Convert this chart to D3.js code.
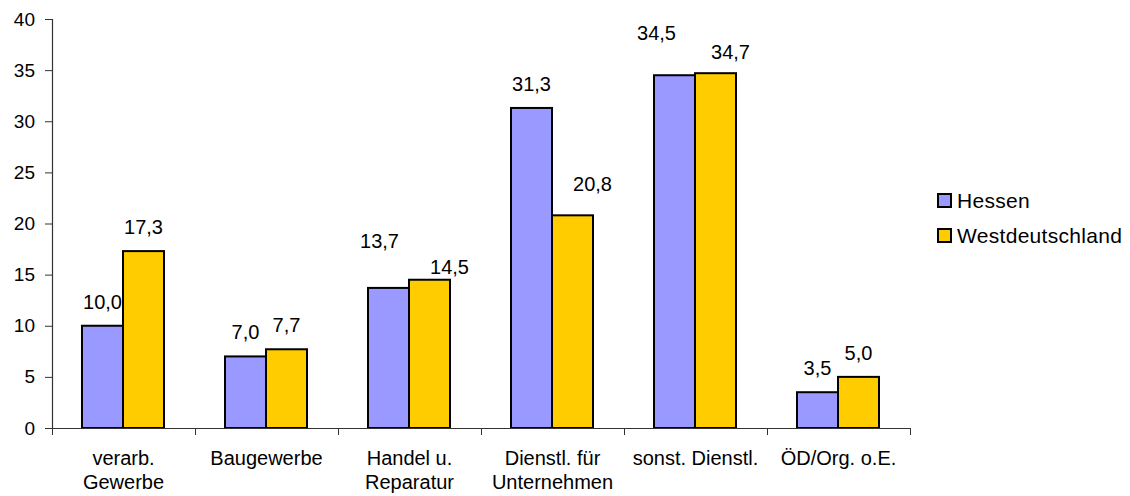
<!DOCTYPE html>
<head>
<meta charset="utf-8">
<style>
  body { margin: 0; background: #fff; }
  text { font-family: "Liberation Sans", Arial, sans-serif; fill: #000; }
</style>
</head>
<body>
<div id="chart"></div>
<script src="https://cdnjs.cloudflare.com/ajax/libs/d3/7.8.5/d3.min.js"></script>
<script>
// data
var categories = [
  ['verarb.', 'Gewerbe'],
  ['Baugewerbe'],
  ['Handel u.', 'Reparatur'],
  ['Dienstl. für', 'Unternehmen'],
  ['sonst. Dienstl.'],
  ['ÖD/Org. o.E.']
];
var seriesNames = ['Hessen', 'Westdeutschland'];
var hessen = [10.0, 7.0, 13.7, 31.3, 34.5, 3.5];
var westdeutschland = [17.3, 7.7, 14.5, 20.8, 34.7, 5.0];
var yTicks = [0, 5, 10, 15, 20, 25, 30, 35, 40];

var colors = ['#9999FF', '#FFCC00'];

var width = 1130, height = 496;
var svg = d3.select('#chart').append('svg')
  .attr('width', width)
  .attr('height', height);

var x0 = d3.scaleBand()
  .domain(d3.range(categories.length))
  .range([52, 910])
  .padding(0);

var x1 = d3.scaleBand()
  .domain(seriesNames)
  .range([30, 112]);

var y = d3.scaleLinear()
  .domain([0, 40])
  .range([428, 19]);

var values = [hessen, westdeutschland];

// axes
var yAxis = svg.append('g')
  .attr('transform', 'translate(52,0)')
  .call(d3.axisLeft(y).tickValues(yTicks).tickSize(7).tickPadding(10)
    .tickFormat(d3.format('d')));
yAxis.select('.domain').attr('stroke', '#333').attr('stroke-width', 1.2);
yAxis.selectAll('.tick line').attr('stroke', '#333');
yAxis.selectAll('.tick text').style('font-size', '19px')
  .style('font-family', '"Liberation Sans", Arial, sans-serif').attr('fill', '#000');

// bars
var groups = svg.selectAll('g.cat')
  .data(categories).enter().append('g')
  .attr('class', 'cat')
  .attr('transform', function(d, i) { return 'translate(' + x0(i) + ',0)'; });

seriesNames.forEach(function(name, s) {
  groups.append('rect')
    .attr('x', function(d, i) { return x1(name); })
    .attr('y', function(d, i) { return y(values[s][i]); })
    .attr('width', x1.bandwidth())
    .attr('height', function(d, i) { return y(0) - y(values[s][i]); })
    .attr('fill', colors[s])
    .attr('stroke', '#000')
    .attr('stroke-width', 2);
});

// x axis line and ticks at category boundaries
var xAxis = svg.append('g');
xAxis.append('line')
  .attr('x1', 52).attr('x2', 910)
  .attr('y1', y(0) + 0.5).attr('y2', y(0) + 0.5)
  .attr('stroke', '#333').attr('stroke-width', 1.2);
xAxis.selectAll('line.tick')
  .data(d3.range(categories.length + 1)).enter().append('line')
  .attr('class', 'tick')
  .attr('x1', function(i) { return 52 + i * x0.bandwidth() + 0.5; })
  .attr('x2', function(i) { return 52 + i * x0.bandwidth() + 0.5; })
  .attr('y1', y(0)).attr('y2', y(0) + 7)
  .attr('stroke', '#333');

// category labels
groups.append('text')
  .attr('text-anchor', 'middle')
  .style('font-size', '20px')
  .selectAll('tspan')
  .data(function(d) { return d; }).enter().append('tspan')
  .attr('x', x0.bandwidth() / 2)
  .attr('y', function(d, j) { return 465 + j * 24; })
  .text(function(d) { return d; });

// value labels (Excel-style, some nudged by hand to avoid overlap)
var labelShift = [
  [[0, 0], [0, 0], [-9, -23], [0, 0], [-18, -18], [0, 0]],
  [[0, 0], [0, 0], [20, 11], [20, -7], [15, 3], [0, 0]]
];
var fmt = function(v) { return d3.format('.1f')(v).replace('.', ','); };
seriesNames.forEach(function(name, s) {
  groups.append('text')
    .attr('text-anchor', 'middle')
    .style('font-size', '20px')
    .attr('x', function(d, i) { return x1(name) + x1.bandwidth() / 2 + labelShift[s][i][0]; })
    .attr('y', function(d, i) { return y(values[s][i]) - 17 + labelShift[s][i][1]; })
    .text(function(d, i) { return fmt(values[s][i]); });
});

// legend
var legend = svg.selectAll('g.legend')
  .data(seriesNames).enter().append('g')
  .attr('class', 'legend')
  .attr('transform', function(d, i) { return 'translate(938,' + (194 + i * 35) + ')'; });
legend.append('rect')
  .attr('width', 13).attr('height', 13)
  .attr('fill', function(d, i) { return colors[i]; })
  .attr('stroke', '#000').attr('stroke-width', 2);
legend.append('text')
  .attr('x', 19).attr('y', 14)
  .style('font-size', '21px')
  .style('letter-spacing', '0.3px')
  .text(function(d) { return d; });
</script>
</body>
</html>
